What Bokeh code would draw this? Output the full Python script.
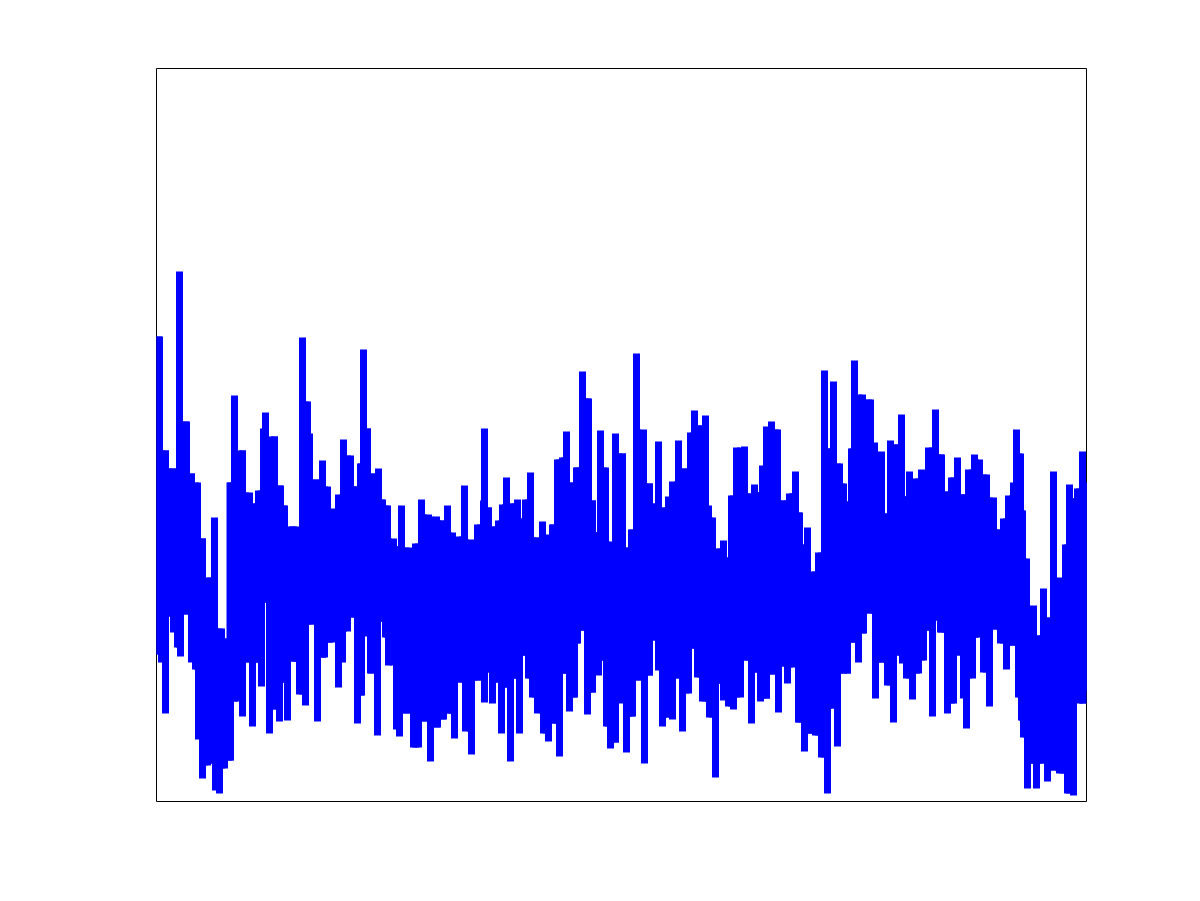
from bisect import bisect_left
from bokeh.plotting import figure
from bokeh.models import Range1d
from bokeh.embed import file_html
from bokeh.resources import INLINE

top_x = [159,165,171,179,186,191,197,202,204,209,214,221,228,229.5,234,242,249,255,258,263,265,274,280,284,292,295,298,302,307,309,316,322,327,329,334,338,343,350,356,360,363,367,371,378,382,387,393,396,401,408,412,415,421,428,436,442,447,452,455,459,
464,470,473,477,483,484,488,493,498,502,506,512,517,522,525,530,535,542,546,548,552,557,562,566,570,573,576,582,584,588,592,595,600,605,608,611,615,622,626,628,631,636,643,649,653,658,663,668,672,678,685,690,694,700,705,708,712,716,719,723,728,731,736,744,749,754,759,762,766,771,777,
784,789,795,799,802,807,811,814,818,824,828,833,839,843,847,851,854,862,870,874,877,881,886,890,897,901,906,909,913,916,921,925,928,935,941,945,951,957,963,968,974,979,986,993,999,1003,1008,1013,1016,1020,1022,1026,1029,1033,1038,1043,1048,1053,1058,1062,1065,1069,1073,1077,1082,1085]
top_v = [465,351,333,530,380,328,319,263,215,224,284,173,163,319,406,351,309,298,311,373,389,365,316,296,275,275,263,464,400,368,322,341,315,281,293,307,362,346,315,338,452,373,328,333,302,296,263,255,296,254,202,258,302,287,285,281,296,269,235,265,
316,262,249,277,301,373,294,275,281,297,324,298,302,283,302,329,264,280,241,267,277,342,344,370,319,301,334,430,403,403,301,269,371,334,260,214,368,348,254,233,272,448,372,318,298,360,294,305,320,361,333,369,391,376,386,296,284,249,253,261,244,306,354,355,308,317,309,336,375,380,372,
301,308,330,289,257,274,203,230,249,431,353,420,338,318,300,353,441,407,402,359,318,350,288,361,357,387,305,330,271,323,332,304,354,392,347,310,324,344,307,332,347,342,327,304,272,283,306,319,372,348,291,243,181,196,166,213,184,330,224,193,257,317,303,313,350,319]
bot_x = [158,161,165,168,173,177,180,185,191,195,198,202,207,210,215,219,224,230,233,238,242,245,252,257,261,265,269,274,279,283,287,293,299,305,310,317,322,324,328,338,342,347,352,357,361,363,367,370,377,381,385,388,396,399,405,413,418,423,430,437,443,448,454,462,465,
471,477,480,484,488,492,497,501,505,510,515,519,525,528,532,537,543,548,553,559,564,569,574,577,580,587,592,595,598,603,606,610,615,618,622,626,632,637,644,649,653,658,662,667,672,677,682,688,693,697,702,709,715,720,723,728,733,740,745,751,755,760,766,771,775,778,
783,787,792,793,798,804,808,815,821,827,832,837,841,847,852,858,863,868,875,882,887,893,898,902,906,912,918,923,927,932,937,940,947,953,959,963,966,972,975,983,989,994,1000,1006,1012,1018,1021,1023,1027,1032,1036,1042,1047,1053,1059,1067,1073,1076,1079,1083,1085]
bot_v = [147,139,88,185,169,154,145,187,139,132,62,23,36,38,11,8,33,41,100,100,85,139,75,139,115,199,68,92,80,119,81,140,107,96,177,80,144,144,159,114,139,170,184,78,106,170,165,128,66,180,164,136,72,65,88,54,54,80,40,74,82,88,63,119,70,
47,121,133,99,129,98,119,68,114,40,123,68,146,123,104,88,68,60,78,45,128,90,104,158,171,87,109,151,126,141,75,53,59,112,98,49,85,121,38,126,161,131,75,84,82,123,70,108,153,124,100,84,24,118,101,95,92,104,141,78,129,100,103,127,154,89,
135,118,134,159,79,50,68,66,44,8,93,55,128,128,159,139,168,188,103,139,116,79,146,138,123,102,128,141,171,85,181,169,88,98,146,103,73,123,164,129,95,172,158,132,156,104,81,64,13,38,13,38,20,31,28,8,6,111,98,98,111]


def swings(tx, tv, bx, bv):
    """For each read extreme, the swing to the tamer of its two opposite neighbours."""
    x, y0, y1 = [], [], []
    for px, pv, ox, ov, pick in ((tx, tv, bx, bv, max), (bx, bv, tx, tv, min)):
        for a, b in zip(px, pv):
            j = bisect_left(ox, a)
            near = ov[max(j - 1, 0):j + 1]
            x.append(a); y0.append(b); y1.append(pick(near))
    return x, y0, y1


xs, y0s, y1s = swings(top_x, top_v, bot_x, bot_v)

p = figure(width=1192, height=893, output_backend="svg", toolbar_location=None,
           x_range=Range1d(156, 1086), y_range=Range1d(0, 733),
           min_border_left=156, min_border_right=106, min_border_top=68, min_border_bottom=92)
p.axis.visible = False
p.grid.visible = False
p.outline_line_color = "black"
p.outline_line_width = 1
p.outline_line_alpha = 1
p.background_fill_color = "white"
p.border_fill_color = "white"
p.segment(x0=xs, y0=y0s, x1=xs, y1=y1s, line_color="#0000ff", line_width=7, line_cap="butt")

open("out.html", "w").write(file_html(p, INLINE))
